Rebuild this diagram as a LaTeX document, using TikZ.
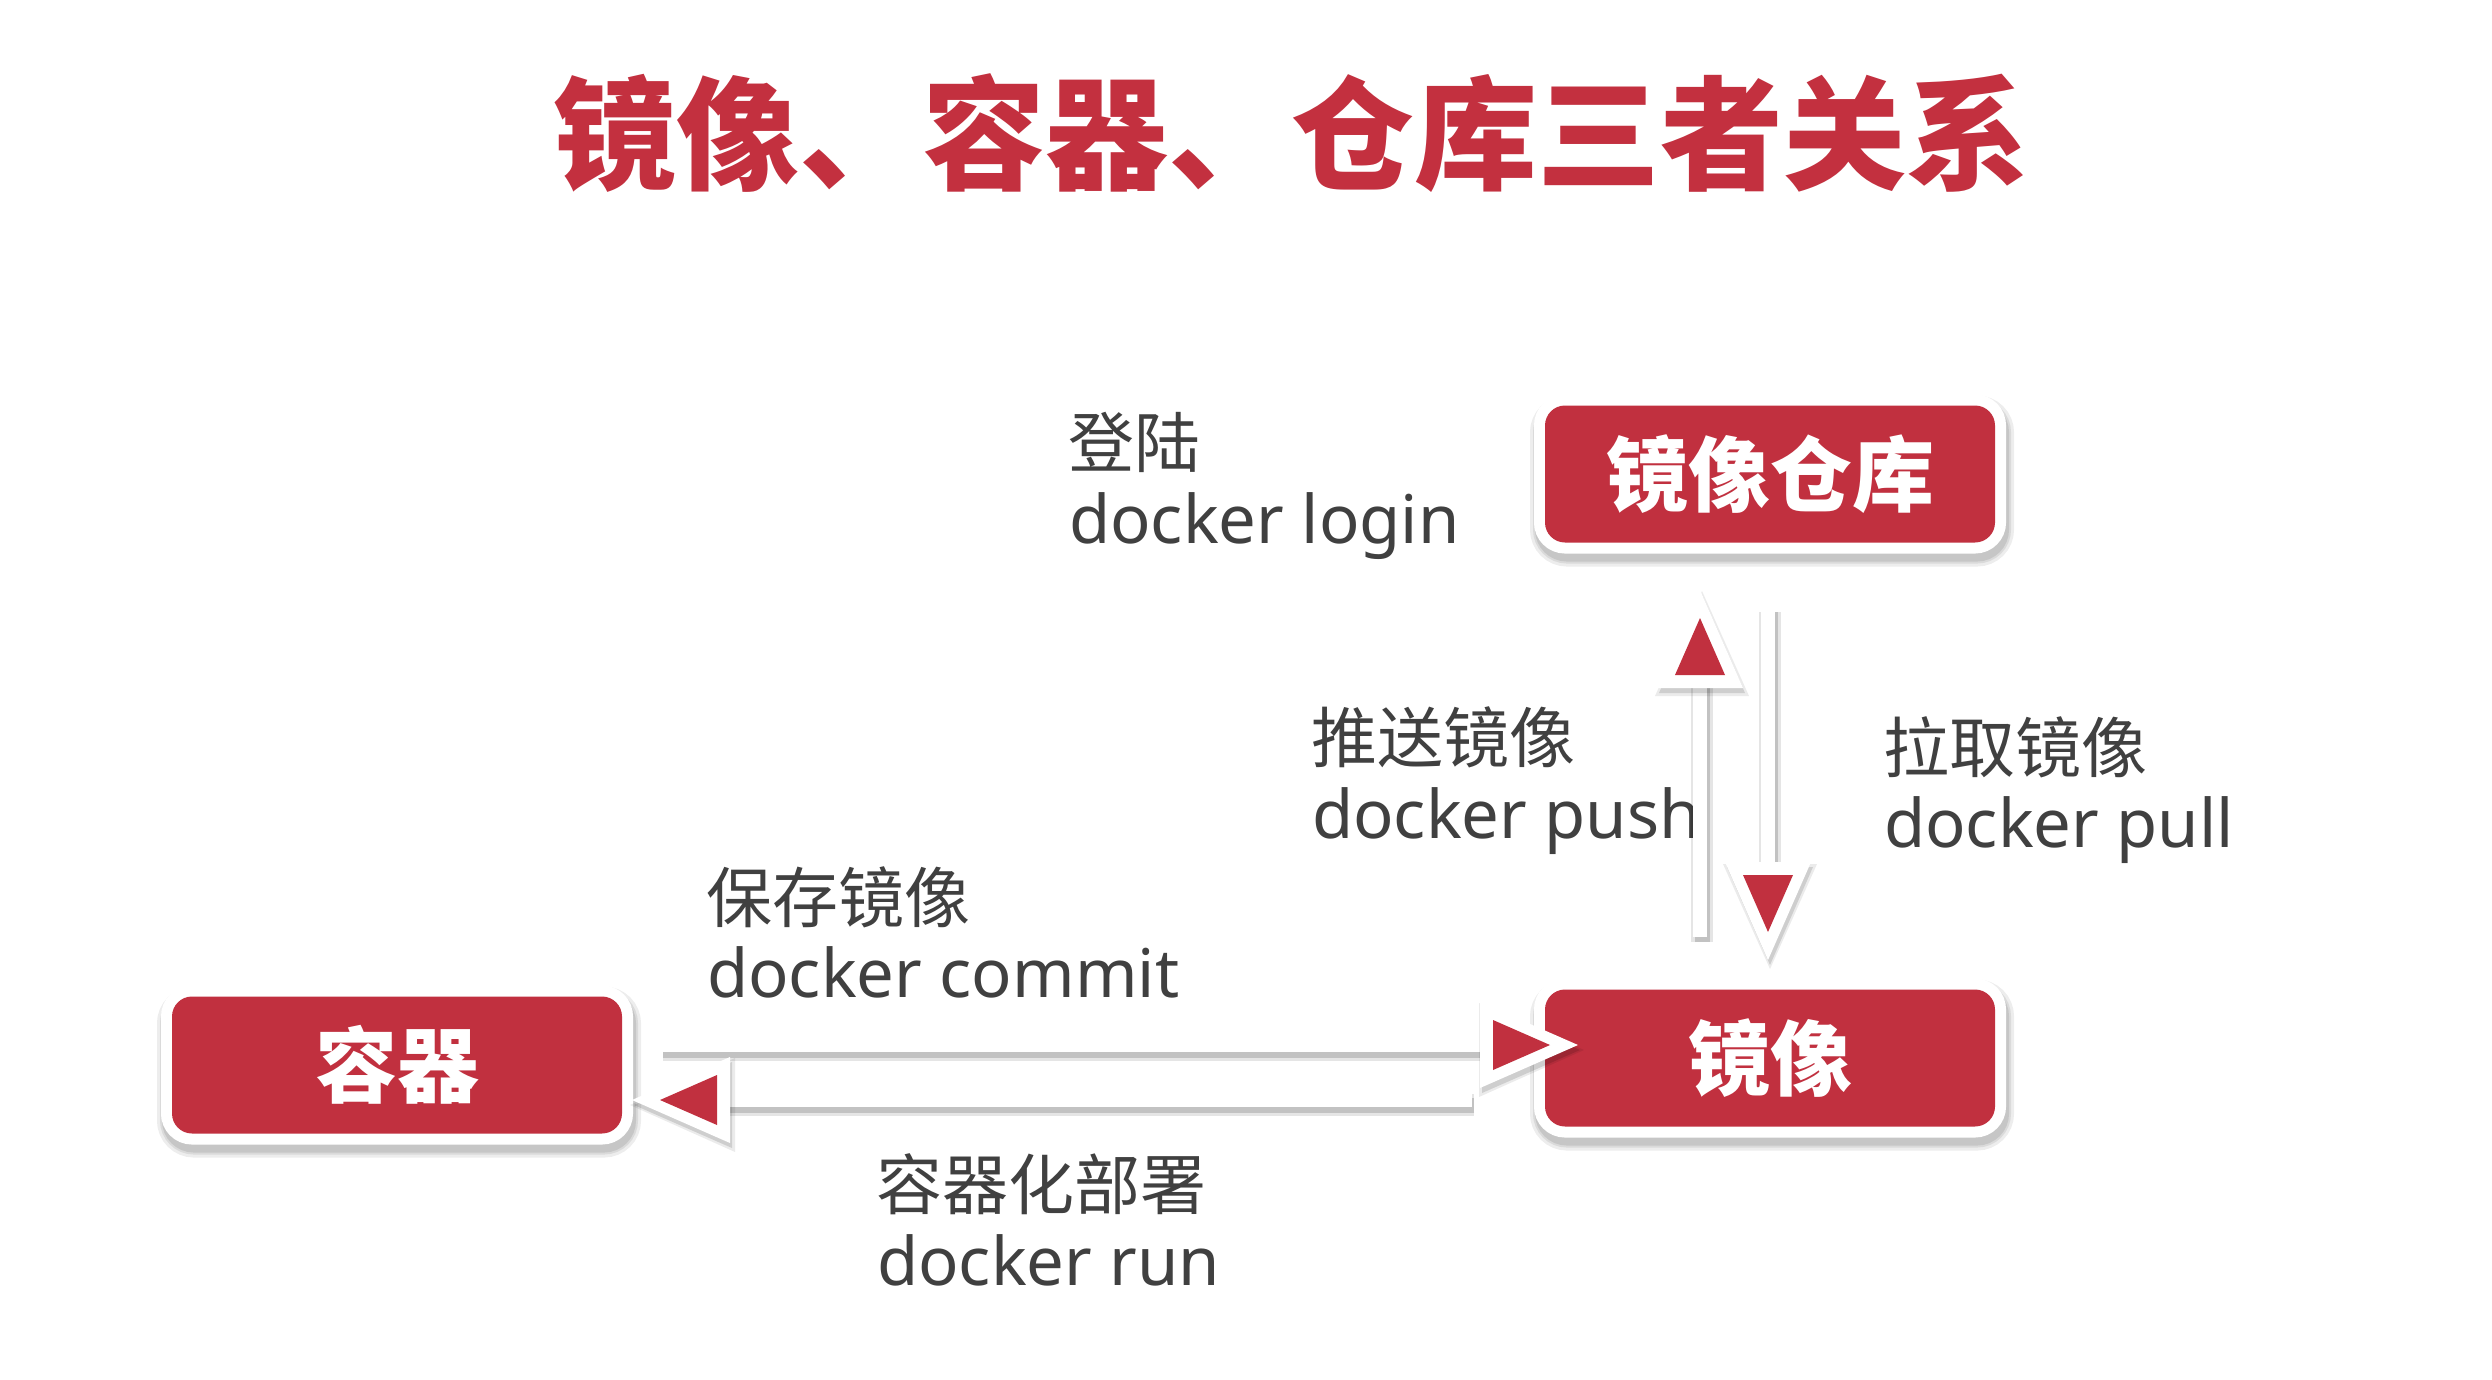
\documentclass[tikz,border=0pt]{standalone}
\usepackage{fontspec}
\setmainfont{Noto Sans}
\newfontfamily\cjk{Noto Sans CJK SC}
\usetikzlibrary{calc}
\definecolor{boxred}{HTML}{C1303F}
\definecolor{titlered}{HTML}{C3303F}
\definecolor{txtgray}{HTML}{404040}
\tikzset{
  box/.style={rectangle, rounded corners=20pt, fill=boxred, minimum width=450pt,
    minimum height=137pt, inner sep=0pt, text=white,
    font=\cjk\bfseries\fontsize{82}{82}\selectfont,
    preaction={draw=black, opacity=0.07, line width=34pt, transform canvas={shift={(2pt,-7pt)}}},
    preaction={draw=black, opacity=0.08, line width=28pt, transform canvas={shift={(2pt,-7pt)}}},
    preaction={draw=black, opacity=0.09, line width=24pt, transform canvas={shift={(2pt,-7pt)}}},
    preaction={draw=white, line width=22pt}},
  lab/.style={anchor=base west, inner sep=0pt, text=txtgray, font=\fontsize{67}{67}\selectfont},
  cjklab/.style={anchor=base west, inner sep=0pt, text=txtgray, font=\cjk\fontsize{66}{66}\selectfont},
  shaft/.style={draw=white, line width=14pt,
    preaction={draw=black, opacity=0.10, line width=22pt, transform canvas={shift={(2pt,-5pt)}}},
    preaction={draw=black, opacity=0.15, line width=15pt, transform canvas={shift={(2pt,-5pt)}}}},
  pics/headshadow/.style={code={
    \fill[black,opacity=.08] (4,0) -- (-101,47) -- (-101,-47) -- cycle;
    \fill[black,opacity=.12] (0,0) -- (-98,43) -- (-98,-43) -- cycle;
  }},
  pics/head/.style={code={
    \fill[white] (0,0) -- (-98,43) -- (-98,-43) -- cycle;
    \fill[boxred] (-28,0) -- (-85,25) -- (-85,-25) -- cycle;
  }}
}
\begin{document}
\begin{tikzpicture}[x=1pt,y=-1pt]
\useasboundingbox (0,0) rectangle (2492,1379);
\fill[white] (0,0) rectangle (2492,1379);

% title
\node[anchor=base west, inner sep=0pt, text=titlered,
  font=\cjk\bfseries\fontsize{123}{123}\selectfont] (title) at (553,180) {镜像、容器、仓库三者关系};

% boxes
\node[box] (repo) at (1770,474) {镜像仓库};
\node[box] (image) at (1770,1058) {镜像};
\node[box] (container) at (397,1065) {容器};

% labels
\node[cjklab] (loginC) at (1068,467) {登陆};
\node[lab] (loginL) at (1069,543) {docker login};
\node[cjklab] (pushC) at (1311,762) {推送镜像};
\node[lab] (pushL) at (1312,838) {docker push};
\node[cjklab] (pullC) at (1883,772) {拉取镜像};
\node[lab] (pullL) at (1884,847) {docker pull};
\node[cjklab] (commitC) at (706,922) {保存镜像};
\node[lab] (commitL) at (707,997) {docker commit};
\node[cjklab] (runC) at (876,1209) {容器化部署};
\node[lab] (runL) at (877,1285) {docker run};

% connector coordinates
\coordinate (pushA) at (1700,937);
\coordinate (pushB) at (1700,680);
\coordinate (pushT) at (1700,590);
\coordinate (pullA) at (1768,607);
\coordinate (pullB) at (1768,868);
\coordinate (pullT) at (1768,960);
\coordinate (commitA) at (661,1045);
\coordinate (commitB) at (1486,1045);
\coordinate (commitT) at (1578,1045);
\coordinate (runA) at (1472,1100);
\coordinate (runB) at (714,1100);
\coordinate (runT) at (632,1100);

% shafts
\draw[shaft] (pushA) -- (pushB);
\draw[shaft] (pullA) -- (pullB);
\draw[shaft] (commitA) -- (commitB);
\draw[shaft] (runA) -- (runB);

% heads
\pic[rotate=90] at ($(pushT)+(2,5)$) {headshadow};
\pic[rotate=-90] at ($(pullT)+(2,5)$) {headshadow};
\pic[rotate=0] at ($(commitT)+(2,5)$) {headshadow};
\pic[rotate=180] at ($(runT)+(2,5)$) {headshadow};
\pic[rotate=90] at (pushT) {head};
\pic[rotate=-90] at (pullT) {head};
\pic[rotate=0] at (commitT) {head};
\pic[rotate=180] at (runT) {head};
\end{tikzpicture}
\end{document}
